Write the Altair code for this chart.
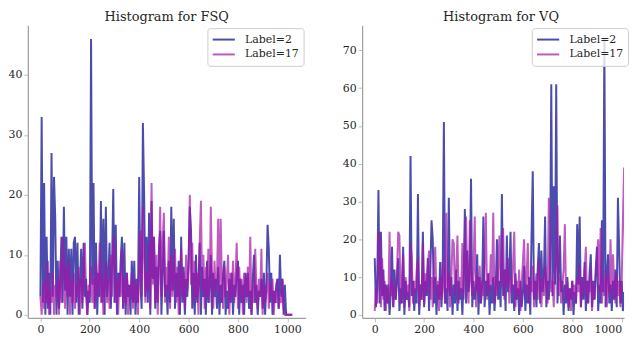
import altair as alt
import pandas as pd

# bin index (every 5th bin)
x_bins = list(range(0, 1025, 5))

series_names = ["Label=2", "Label=17"]
series_colors = ["#00008b", "#a514aa"]

fsq_label2 = [
    3, 33, 2, 22, 0, 13, 1, 7, 0, 27,
    3, 23, 16, 0, 9, 1, 5, 13, 2, 18,
    4, 13, 0, 11, 3, 11, 0, 12, 13, 2,
    12, 0, 5, 11, 1, 12, 3, 6, 0, 4,
    2, 46, 5, 22, 1, 12, 0, 7, 3, 19,
    2, 16, 0, 18, 3, 6, 12, 1, 8, 21,
    2, 15, 0, 7, 3, 9, 13, 1, 12, 0,
    7, 3, 5, 0, 9, 2, 9, 0, 6, 2,
    23, 5, 1, 32, 20, 3, 13, 2, 17, 0,
    19, 6, 13, 1, 8, 2, 11, 14, 0, 7,
    14, 3, 5, 0, 9, 2, 18, 4, 16, 1,
    7, 3, 9, 0, 13, 2, 8, 0, 6, 3,
    9, 18, 14, 1, 7, 0, 10, 2, 5, 12,
    0, 8, 3, 6, 0, 9, 2, 5, 10, 0,
    7, 3, 6, 1, 8, 0, 5, 2, 7, 9,
    0, 4, 1, 6, 2, 7, 0, 5, 3, 7,
    9, 0, 6, 2, 5, 0, 7, 3, 7, 1,
    4, 0, 6, 10, 2, 5, 0, 4, 3, 6,
    1, 7, 0, 5, 15, 11, 2, 7, 0, 4,
    2, 5, 6, 1, 10, 3, 6, 0, 5, 0,
    0, 0, 0, 0, 0,
]

fsq_label17 = [
    3, 0, 5, 1, 6, 2, 9, 0, 4, 2,
    7, 0, 5, 3, 6, 0, 9, 2, 13, 10,
    1, 8, 3, 9, 0, 6, 2, 7, 1, 5,
    3, 8, 0, 6, 2, 9, 12, 3, 0, 5,
    3, 8, 2, 6, 1, 9, 3, 5, 12, 2,
    7, 0, 5, 9, 2, 6, 1, 10, 3, 13,
    11, 2, 6, 0, 7, 3, 11, 1, 6, 2,
    7, 0, 5, 3, 7, 1, 6, 2, 5, 0,
    8, 14, 3, 18, 10, 2, 7, 4, 12, 1,
    22, 5, 13, 2, 10, 0, 8, 18, 3, 12,
    17, 2, 8, 4, 13, 1, 10, 3, 7, 11,
    2, 8, 0, 5, 11, 3, 7, 1, 10, 4,
    8, 20, 5, 12, 2, 9, 3, 7, 0, 12,
    19, 4, 10, 1, 8, 3, 11, 2, 18, 7,
    1, 9, 4, 6, 16, 2, 16, 5, 1, 8,
    3, 6, 10, 0, 7, 3, 9, 2, 6, 12,
    1, 8, 3, 6, 0, 7, 6, 2, 8, 3,
    13, 0, 5, 2, 11, 4, 1, 6, 3, 11,
    0, 5, 2, 4, 7, 1, 5, 3, 6, 0,
    4, 2, 6, 1, 3, 2, 6, 1, 0, 0,
    0, 0, 0, 0, 0,
]

vq_label2 = [
    15, 2, 7, 33, 3, 22, 5, 12, 1, 8,
    3, 8, 0, 6, 18, 2, 12, 4, 9, 15,
    1, 7, 3, 18, 0, 9, 4, 6, 2, 42,
    5, 9, 1, 7, 3, 32, 0, 8, 4, 22,
    2, 9, 5, 15, 1, 11, 25, 20, 3, 10,
    0, 8, 4, 14, 2, 9, 51, 3, 7, 1,
    31, 5, 10, 0, 8, 3, 12, 1, 9, 4,
    7, 0, 10, 28, 3, 17, 6, 11, 36, 2,
    9, 4, 7, 16, 0, 10, 3, 8, 26, 2,
    9, 5, 11, 0, 8, 3, 10, 1, 7, 20,
    4, 9, 2, 32, 5, 12, 1, 21, 6, 10,
    22, 3, 8, 1, 11, 4, 7, 0, 9, 2,
    6, 13, 1, 8, 3, 10, 0, 21, 38, 4,
    9, 2, 12, 19, 3, 17, 6, 10, 26, 2,
    9, 4, 12, 61, 5, 34, 8, 61, 3, 11,
    21, 6, 9, 0, 8, 3, 10, 1, 7, 4,
    9, 0, 6, 3, 24, 8, 26, 2, 10, 4,
    14, 1, 9, 3, 11, 16, 2, 9, 4, 12,
    18, 1, 8, 3, 25, 6, 73, 2, 10, 16,
    3, 8, 1, 9, 4, 12, 2, 31, 17, 3,
    9, 1, 6, 2, 7,
]

vq_label17 = [
    1, 7, 3, 22, 20, 2, 15, 4, 9, 1,
    7, 3, 22, 5, 9, 2, 8, 4, 11, 22,
    21, 3, 9, 16, 2, 10, 5, 8, 1, 19,
    15, 3, 9, 6, 12, 15, 2, 8, 4, 19,
    3, 11, 6, 13, 17, 4, 10, 2, 12, 18,
    5, 9, 1, 10, 4, 14, 8, 3, 27, 6,
    11, 2, 9, 20, 19, 5, 12, 21, 3, 10,
    6, 19, 4, 12, 26, 8, 3, 25, 9, 5,
    12, 26, 2, 10, 6, 13, 3, 9, 5, 14,
    27, 4, 11, 6, 16, 8, 27, 3, 10, 5,
    13, 21, 7, 11, 23, 4, 12, 8, 15, 3,
    10, 6, 13, 22, 2, 9, 5, 12, 1, 8,
    14, 20, 4, 10, 19, 3, 9, 6, 13, 2,
    8, 11, 4, 15, 7, 2, 10, 5, 13, 8,
    3, 31, 12, 6, 9, 2, 11, 14, 29, 5,
    10, 3, 8, 12, 24, 4, 9, 2, 7, 1,
    9, 5, 8, 3, 10, 6, 13, 2, 9, 5,
    11, 18, 3, 9, 6, 12, 1, 8, 4, 10,
    15, 20, 6, 23, 3, 9, 5, 12, 2, 10,
    6, 20, 4, 16, 8, 3, 11, 5, 9, 2,
    8, 25, 39, 6, 7,
]

x_ticks = [0, 200, 400, 600, 800, 1000]
FONT = "DejaVu Serif"
PLOT_H = 295


def panel(title, a, b, width, xdom, ydom, yticks, dx, legend_x, last_right):
    df = pd.DataFrame({
        "bin": x_bins + x_bins,
        "count": a + b,
        "series": [series_names[0]] * len(a) + [series_names[1]] * len(b),
    })
    color = alt.Color(
        "series:N",
        scale=alt.Scale(domain=series_names, range=series_colors),
        legend=alt.Legend(
            title=None, orient="none", legendX=legend_x, legendY=3,
            symbolType="stroke", symbolSize=500, symbolStrokeWidth=2,
            symbolOpacity=0.7, labelFont=FONT, labelFontSize=11,
            labelColor="#262626", strokeColor="#cccccc",
            fillColor="rgba(255,255,255,0.8)", padding=4, cornerRadius=3,
            clipHeight=15, rowPadding=0, labelOffset=9,
        ),
    )
    if last_right:
        x_axis = alt.Axis(
            values=x_ticks, title=None, format="d",
            labelAlign=alt.condition("datum.value == 1000", alt.value("right"), alt.value("center")),
        )
    else:
        x_axis = alt.Axis(values=x_ticks, title=None, format="d")
    layers = []
    for s in series_names:
        layers.append(
            alt.Chart(df)
            .transform_filter(alt.datum.series == s)
            .mark_line(strokeWidth=2.0, strokeOpacity=0.7, clip=True)
            .encode(
                x=alt.X("bin:Q", scale=alt.Scale(domain=xdom, nice=False, zero=False),
                        axis=x_axis),
                y=alt.Y("count:Q", scale=alt.Scale(domain=ydom, nice=False, zero=False),
                        axis=alt.Axis(values=yticks, title=None, minExtent=20, maxExtent=20)),
                color=color,
                order=alt.Order("bin:Q"),
            )
        )
    return alt.layer(*layers).properties(
        width=width, height=PLOT_H,
        title=alt.TitleParams(title, font=FONT, fontSize=13, fontWeight="normal",
                              color="#262626", offset=1, dx=dx),
    )


left = panel("Histogram for FSQ", fsq_label2, fsq_label17, 280, [-51, 1074],
             [-0.5, 48.3], [0, 10, 20, 30, 40], 0, 181, False)
right = panel("Histogram for VQ", vq_label2, vq_label17, 264, [-51, 1009.7],
              [-0.79, 76.65], [0, 10, 20, 30, 40, 50, 60, 70], 8, 171, True)

chart = (
    alt.hconcat(left, right, spacing=37)
    .resolve_legend(color="independent")
    .properties(padding={"left": 0, "top": 2, "right": 0, "bottom": 0})
    .configure_view(stroke=None)
    .configure_axis(
        grid=False, domainColor="#9e9e9e", domainWidth=1.2,
        tickColor="#bdbdbd", tickSize=4, labelFont=FONT, labelFontSize=11,
        labelColor="#262626", labelPadding=2,
    )
)

chart.save("out.html", embed_options={"renderer": "svg", "actions": False})
